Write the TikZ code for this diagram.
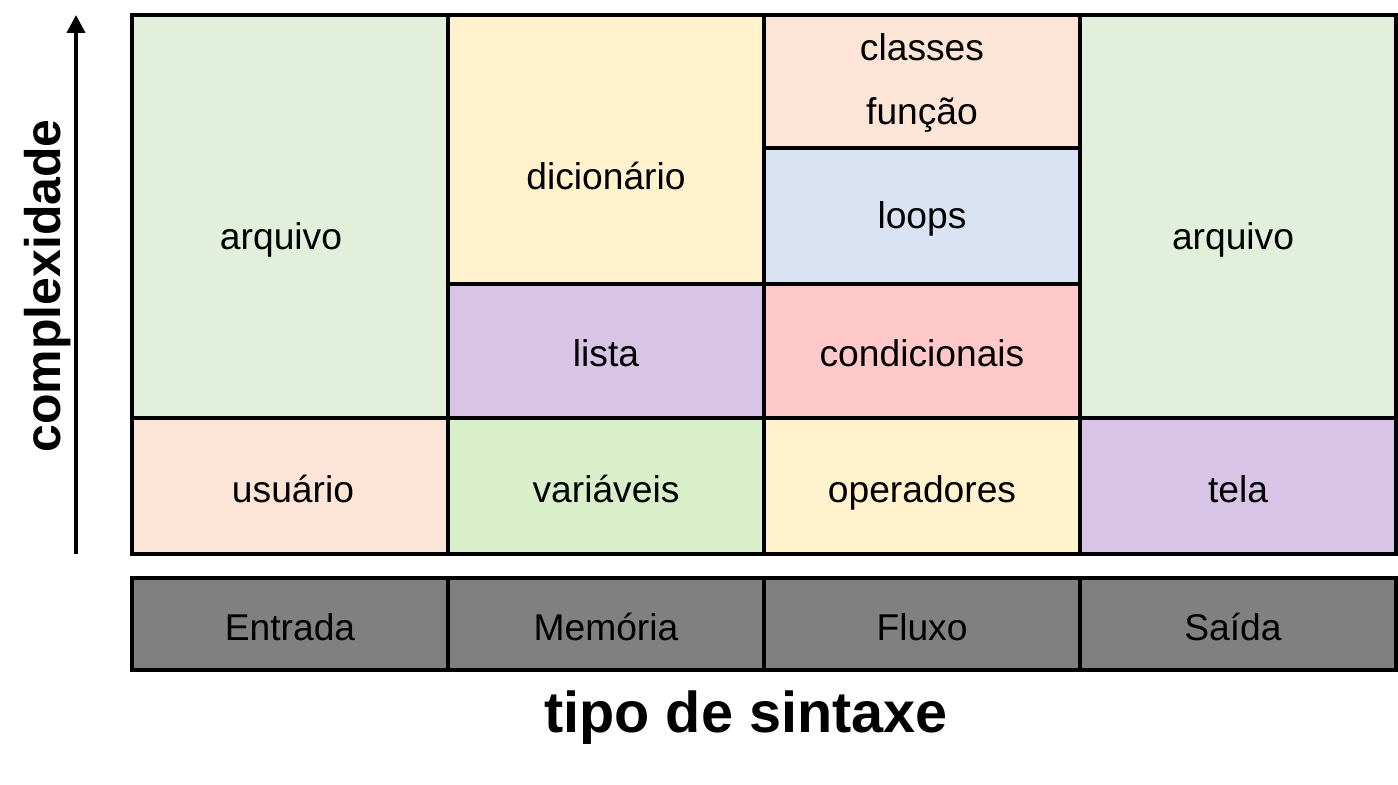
\documentclass[tikz,border=0pt]{standalone}
\usepackage{fontspec}
\setmainfont{Liberation Sans}
\usetikzlibrary{arrows.meta}
\definecolor{cgreen}{HTML}{E2EFDA}
\definecolor{cpeach}{HTML}{FCE5D6}
\definecolor{cyellow}{HTML}{FFF2CC}
\definecolor{cpurple}{HTML}{D7C4E6}
\definecolor{cblue}{HTML}{DAE3F3}
\definecolor{cred}{HTML}{FFC9C9}
\definecolor{cvgreen}{HTML}{D9EFC9}
\definecolor{cgray}{HTML}{808080}
\begin{document}
\begin{tikzpicture}[x=0.5pt,y=-0.5pt,
  cell/.style={draw=black,line width=2pt,inner sep=0pt,minimum width=158pt,anchor=center},
  lbl/.style={font=\fontsize{18.6}{22}\selectfont,text=black,inner sep=0pt,anchor=base,yshift=-1.5pt}]
\useasboundingbox (0,0) rectangle (1398,785);
\fill[white] (0,0) rectangle (1398,785);
% column 1
\node[cell,fill=cgreen,minimum height=201.5pt] (c1a) at (290,216.5) {};
\node[cell,fill=cpeach,minimum height=68pt] (c1b) at (290,486) {};
% column 2
\node[cell,fill=cyellow,minimum height=134.5pt] (c2a) at (606,149.5) {};
\node[cell,fill=cpurple,minimum height=67pt] (c2b) at (606,351) {};
\node[cell,fill=cvgreen,minimum height=68pt] (c2c) at (606,486) {};
% column 3
\node[cell,fill=cpeach,minimum height=66.5pt] (c3a) at (922,81.5) {};
\node[cell,fill=cblue,minimum height=68pt] (c3b) at (922,216) {};
\node[cell,fill=cred,minimum height=67pt] (c3c) at (922,351) {};
\node[cell,fill=cyellow,minimum height=68pt] (c3d) at (922,486) {};
% column 4
\node[cell,fill=cgreen,minimum height=201.5pt] (c4a) at (1238,216.5) {};
\node[cell,fill=cpurple,minimum height=68pt] (c4b) at (1238,486) {};
% bottom bar
\node[cell,fill=cgray,minimum height=46pt] (b1) at (290,624) {};
\node[cell,fill=cgray,minimum height=46pt] (b2) at (606,624) {};
\node[cell,fill=cgray,minimum height=46pt] (b3) at (922,624) {};
\node[cell,fill=cgray,minimum height=46pt] (b4) at (1238,624) {};
% labels
\node[lbl] (t1a) at (281,247) {arquivo};
\node[lbl] (t1b) at (293,500) {usuário};
\node[lbl] (t2a) at (606,187) {dicionário};
\node[lbl] (t2b) at (606,364) {lista};
\node[lbl] (t2c) at (606,500) {variáveis};
\node[lbl] (t3a1) at (922,58) {classes};
\node[lbl] (t3a2) at (922,122) {função};
\node[lbl] (t3b) at (922,226) {loops};
\node[lbl] (t3c) at (922,364) {condicionais};
\node[lbl] (t3d) at (922,500) {operadores};
\node[lbl] (t4a) at (1233,247) {arquivo};
\node[lbl] (t4b) at (1238,500) {tela};
\node[lbl] (tb1) at (290,638) {Entrada};
\node[lbl] (tb2) at (606,638) {Memória};
\node[lbl] (tb3) at (922,638) {Fluxo};
\node[lbl] (tb4) at (1233,638) {Saída};
% axes
\coordinate (ab) at (76,554);
\coordinate (at) at (76,15);
\draw[line width=2pt,-{Triangle[width=9pt,length=9pt]}] (ab) -- (at);
\node[font=\fontsize{25}{30}\selectfont\bfseries,rotate=90,inner sep=0pt] (ylab) at (48,286) {complexidade};
\node[font=\fontsize{28.8}{34}\selectfont\bfseries,inner sep=0pt] (xlab) at (746,718) {tipo de sintaxe};
\end{tikzpicture}
\end{document}
